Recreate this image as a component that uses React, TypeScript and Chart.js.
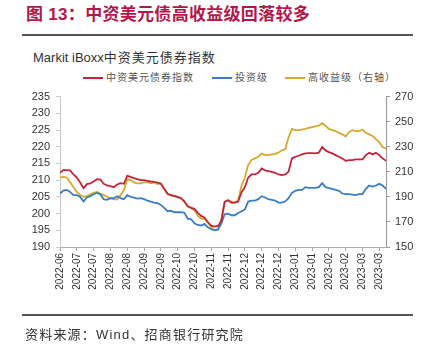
import React, { useEffect, useRef } from 'react';
import { Chart, registerables } from 'chart.js';

Chart.register(...registerables);

const tickLabels = [
  '2022-06', '2022-07', '2022-07', '2022-08', '2022-08', '2022-09', '2022-09',
  '2022-10', '2022-10', '2022-11', '2022-11', '2022-12', '2022-12', '2022-12',
  '2023-01', '2023-01', '2023-02', '2023-02', '2023-03', '2023-03',
];

// 中资美元债券指数 (left axis)
const composite = [
  212.2, 213.0, 213.0, 212.9, 211.7, 210.8, 209.3, 207.6, 208.8, 209.0,
  209.6, 210.3, 210.2, 208.9, 208.4, 208.2, 207.9, 208.7, 209.1, 208.9,
  211.3, 211.0, 210.6, 210.3, 210.0, 210.0, 209.8, 209.6, 209.5, 209.3,
  208.9, 207.4, 206.0, 205.5, 205.3, 205.0, 204.6, 203.6, 202.2, 201.7,
  201.4, 200.2, 199.3, 198.8, 197.4, 196.4, 196.1, 196.3, 197.8, 203.5,
  204.0, 203.3, 203.3, 203.6, 206.3, 207.9, 210.8, 211.7, 211.7, 212.2,
  213.5, 212.9, 212.7, 212.5, 212.2, 211.7, 211.5, 211.7, 212.5, 216.5,
  217.0, 217.3, 217.7, 218.0, 218.1, 218.1, 218.0, 218.2, 219.9, 218.9,
  218.4, 218.0, 217.5, 217.0, 216.5, 215.8, 216.0, 216.0, 216.2, 216.2,
  216.2, 217.5, 218.2, 217.7, 218.2, 217.5, 216.5, 215.8,
];

// 投资级 (left axis)
const investment = [
  206.0, 206.9, 207.1, 206.5, 205.5, 205.5, 205.0, 203.6, 204.8, 205.2,
  205.8, 206.2, 205.8, 204.3, 204.1, 204.6, 204.6, 205.2, 204.6, 204.3,
  205.5, 205.0, 204.8, 204.5, 204.6, 204.3, 203.9, 203.6, 203.3, 203.1,
  202.6, 201.7, 200.7, 200.9, 200.4, 200.4, 200.4, 200.2, 198.5, 198.3,
  197.1, 196.6, 196.4, 196.9, 195.9, 195.3, 195.0, 195.2, 197.0, 199.8,
  200.0, 199.5, 199.5, 200.2, 200.7, 201.2, 203.6, 203.9, 203.9, 204.3,
  205.2, 204.8, 204.3, 204.1, 203.9, 203.3, 203.3, 203.6, 204.6, 206.2,
  206.8, 207.1, 207.1, 207.9, 207.7, 207.7, 207.7, 207.9, 209.1, 207.9,
  207.6, 207.4, 207.1, 206.8, 206.0, 205.8, 205.8, 205.7, 205.5, 205.8,
  205.8, 207.4, 208.4, 208.1, 208.4, 208.9, 208.4, 207.4,
];

// 高收益级 (right axis)
const highYield = [
  205.4, 205.9, 205.4, 201.6, 197.7, 193.9, 191.4, 190.1, 190.6, 192.1,
  193.2, 193.9, 192.6, 191.4, 190.1, 188.8, 188.0, 188.0, 191.4, 195.2,
  204.1, 203.4, 201.6, 200.8, 200.8, 201.6, 201.6, 200.8, 201.6, 200.3,
  200.8, 196.5, 192.1, 190.9, 190.6, 189.6, 188.8, 186.3, 182.4, 181.2,
  179.4, 174.8, 172.7, 172.2, 169.7, 165.8, 163.3, 164.3, 172.0, 186.0,
  187.5, 185.5, 185.5, 187.0, 199.0, 205.4, 215.6, 219.5, 220.7, 222.0,
  224.6, 223.3, 223.3, 223.8, 224.3, 225.3, 227.1, 227.9, 237.3, 244.2,
  243.2, 243.2, 243.7, 244.2, 245.0, 245.7, 246.3, 246.8, 248.8, 246.8,
  244.2, 243.2, 242.4, 241.2, 239.9, 238.1, 241.7, 243.2, 242.4, 242.4,
  243.7, 241.2, 239.9, 238.6, 236.0, 233.5, 229.7, 228.4,
];

const RED = '#c3243a';
const BLUE = '#3a7cc8';
const GOLD = '#d6a92e';
const FONT = 'Arial, "Liberation Sans", "Noto Sans CJK SC", sans-serif';

export default function App() {
  const ref = useRef<HTMLCanvasElement>(null);

  useEffect(() => {
    const canvas = ref.current;
    if (!canvas) return;
    const chart = new Chart(canvas, {
      type: 'line',
      data: {
        datasets: [
          {
            label: '中资美元债券指数',
            data: composite.map((y, x) => ({ x, y })),
            borderColor: RED,
            borderWidth: 1.8,
            pointRadius: 0,
            yAxisID: 'y',
          },
          {
            label: '投资级',
            data: investment.map((y, x) => ({ x, y })),
            borderColor: BLUE,
            borderWidth: 1.8,
            pointRadius: 0,
            yAxisID: 'y',
          },
          {
            label: '高收益级（右轴）',
            data: highYield.map((y, x) => ({ x, y })),
            borderColor: GOLD,
            borderWidth: 1.8,
            pointRadius: 0,
            yAxisID: 'y2',
          },
        ],
      },
      options: {
        animation: false,
        responsive: false,
        maintainAspectRatio: false,
        layout: { padding: { top: 7, left: 0, right: 0, bottom: 0 } },
        plugins: { legend: { display: false }, tooltip: { enabled: false } },
        scales: {
          x: {
            type: 'linear',
            min: 0,
            max: composite.length - 1,
            afterFit: (s: any) => { s.height = 69; },
            grid: { drawOnChartArea: false, drawTicks: true, tickLength: 4, color: '#aaaaaa' },
            border: { display: true, color: '#aaaaaa' },
            ticks: {
              stepSize: 5,
              includeBounds: false,
              maxTicksLimit: 100,
              autoSkip: false,
              maxRotation: 90,
              minRotation: 90,
              padding: 2,
              color: '#333',
              font: { family: FONT, size: 10 },
              callback: (v: any) => {
                const i = Math.round(Number(v) / 5);
                return Number(v) % 5 === 0 && tickLabels[i] ? tickLabels[i] : '';
              },
            },
          },
          y: {
            position: 'left',
            min: 190,
            max: 235,
            afterFit: (s: any) => { s.width = 60; },
            grid: { drawOnChartArea: false, drawTicks: true, tickLength: 4, color: '#c8c8c8' },
            border: { display: true, color: '#c8c8c8' },
            ticks: { stepSize: 5, padding: 6, color: '#333', font: { family: FONT, size: 11 } },
          },
          y2: {
            position: 'right',
            min: 150,
            max: 270,
            afterFit: (s: any) => { s.width = 45; },
            grid: { drawOnChartArea: false, drawTicks: true, tickLength: 4, color: '#999999' },
            border: { display: true, color: '#999999' },
            ticks: { stepSize: 20, padding: 5, color: '#333', font: { family: FONT, size: 11 } },
          },
        },
      },
    });
    return () => chart.destroy();
  }, []);

  const legendItem = (left: number, color: string, text: string) => (
    <div style={{ position: 'absolute', left, top: 71, height: 14, display: 'flex', alignItems: 'center' }}>
      <div style={{ width: 20, height: 2, background: color, marginRight: 3 }} />
      <span style={{ fontSize: 10, letterSpacing: 1, color: '#555', lineHeight: '14px', fontFamily: FONT }}>{text}</span>
    </div>
  );

  return (
    <div style={{ position: 'fixed', left: 0, top: 0, width: 431, height: 352, background: '#fff', overflow: 'hidden', fontFamily: FONT }}>
      <div style={{ position: 'absolute', left: 26, top: 5, fontSize: 17, lineHeight: '20px', fontWeight: 'bold', color: '#b3174a', letterSpacing: 0.3, whiteSpace: 'nowrap' }}>
        图 13：中资美元债高收益级回落较多
      </div>
      <div style={{ position: 'absolute', left: 22, top: 34, width: 391, height: 2, background: '#555' }} />
      <div style={{ position: 'absolute', left: 33, top: 49, fontSize: 13, lineHeight: '18px', color: '#333', whiteSpace: 'nowrap' }}>
        Markit iBoxx<span style={{ letterSpacing: 1 }}>中资美元债券指数</span>
      </div>
      {legendItem(83, RED, '中资美元债券指数')}
      {legendItem(212, BLUE, '投资级')}
      {legendItem(285, GOLD, '高收益级（右轴）')}
      <canvas ref={ref} width={431} height={232} style={{ position: 'absolute', left: 0, top: 84, width: 431, height: 232 }} />
      <div style={{ position: 'absolute', left: 22, top: 314, width: 391, height: 2, background: '#555' }} />
      <div style={{ position: 'absolute', left: 25, top: 326, fontSize: 13, lineHeight: '18px', color: '#333', letterSpacing: 1.2, whiteSpace: 'nowrap' }}>
        资料来源：Wind、招商银行研究院
      </div>
    </div>
  );
}
